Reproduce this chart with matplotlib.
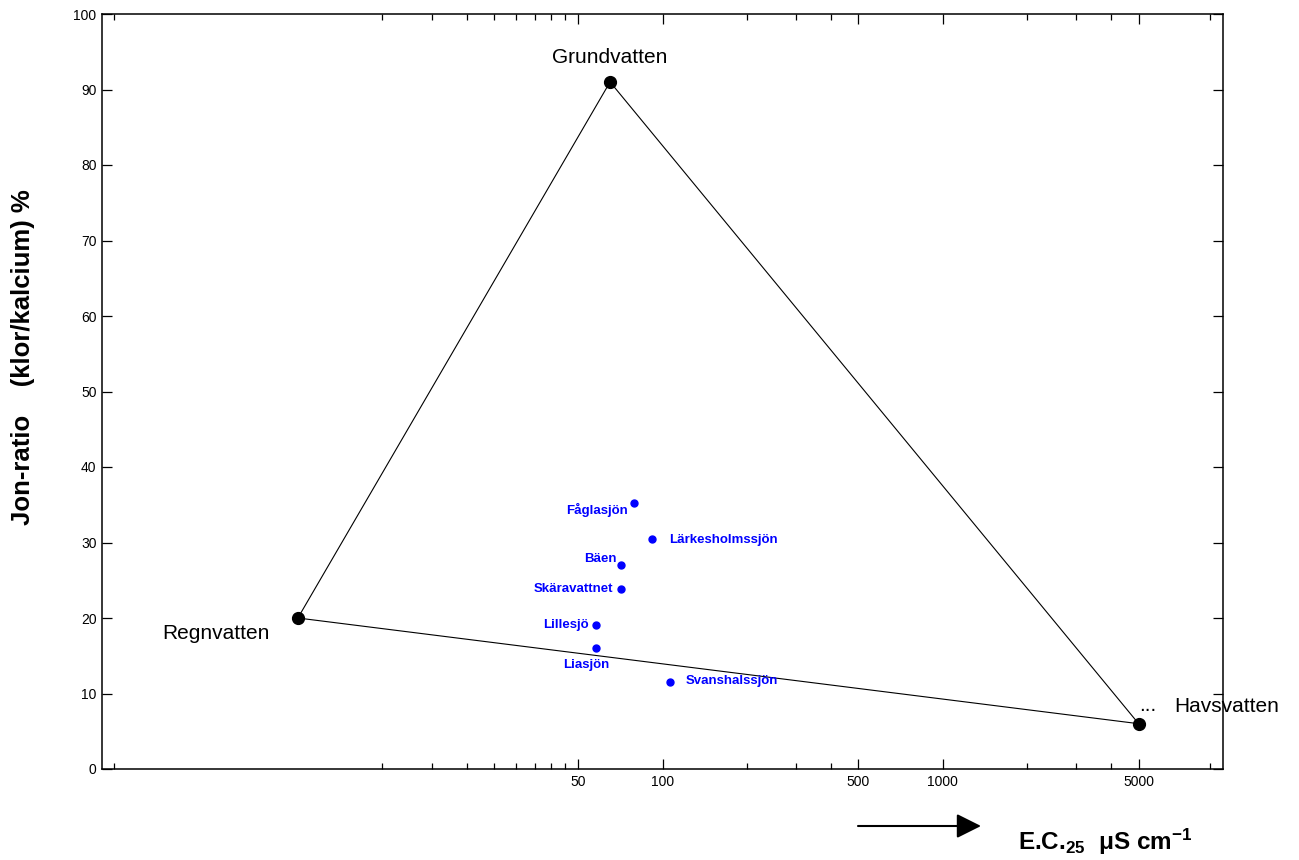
#!/usr/bin/env python3

# Matplotlib for charts
import matplotlib
matplotlib.use('Agg')
import matplotlib.pyplot as plt


############################################################


# End members of the triangle (E.C.25 in uS/cm, ion ratio in %)
end_names = ['Regnvatten', 'Grundvatten', 'Havsvatten']
end_ec    = [5, 65, 5000]
end_ratio = [20, 91, 6]

# Lakes
lake_names = ['Fåglasjön', 'Lärkesholmssjön', 'Bäen', 'Skäravattnet',
              'Lillesjö', 'Liasjön', 'Svanshalssjön']
lake_ec    = [79, 92, 71, 71, 58, 58, 106]
lake_ratio = [35.2, 30.4, 27.0, 23.9, 19.1, 16.0, 11.5]

# Axis ticks
x_major = [50, 100, 500, 1000, 5000]
x_minor = [1.1, 10, 15, 20, 25, 30, 35, 40, 45, 200, 300, 400, 2000, 3000, 4000, 9000]
y_major = list(range(0, 101, 10))


############################################################


plt.rcParams['font.family'] = ['Liberation Sans', 'DejaVu Sans']
plt.rcParams['mathtext.fontset'] = 'custom'
plt.rcParams['mathtext.rm'] = 'Liberation Sans:bold'
plt.rcParams['mathtext.default'] = 'rm'

W, H = 1299, 860
fig = plt.figure(figsize=(W/100, H/100), dpi=100, facecolor='white')

# axes box in pixels: left 102, right 1223, top 14, bottom 769
ax = fig.add_axes([102/W, (H-769)/H, (1223-102)/W, (769-14)/H])

ax.set_xscale('log')
ax.set_xlim(1, 10000)
ax.set_ylim(0, 100)

for s in ax.spines.values():
	s.set_linewidth(1.1)

ax.set_xticks(x_major)
ax.set_xticklabels([str(v) for v in x_major])
ax.set_xticks(x_minor, minor=True)
ax.set_xticklabels([], minor=True)
ax.set_yticks(y_major)
ax.set_yticklabels([str(v) for v in y_major])

ax.tick_params(which='major', direction='in', length=7.5, width=0.9, labelsize=10, pad=4,
	top=True, right=True)
ax.tick_params(which='minor', direction='in', length=4, width=0.9, top=True, right=True)


"""
Triangle between the end members
"""
tri_x = end_ec + [end_ec[0]]
tri_y = end_ratio + [end_ratio[0]]
ax.plot(tri_x, tri_y, color='black', lw=0.8, zorder=2)
ax.plot(end_ec, end_ratio, 'o', color='black', ms=8.5, zorder=3)

# label offsets in pixels, alignment
end_offsets = [(-28, -21, 'right'), (0, 19, 'center'), (36, 12, 'left')]
for name, x, y, (dx, dy, ha) in zip(end_names, end_ec, end_ratio, end_offsets):
	ax.annotate(name, xy=(x, y), xytext=(dx, dy), textcoords='offset pixels',
		ha=ha, va='baseline', fontsize=15)

ax.annotate('...', xy=(end_ec[2], end_ratio[2]), xytext=(0, 13), textcoords='offset pixels',
	ha='left', va='baseline', fontsize=15)


"""
Lakes
"""
ax.plot(lake_ec, lake_ratio, 'o', color='#0000ff', ms=5, zorder=4)

lake_offsets = [(-6, -11, 'right'), (17, -4, 'left'), (-4, 3, 'right'), (-8, -3, 'right'),
	(-7, -3, 'right'), (-10, -20, 'center'), (16, -2, 'left')]
for name, x, y, (dx, dy, ha) in zip(lake_names, lake_ec, lake_ratio, lake_offsets):
	ax.annotate(name, xy=(x, y), xytext=(dx, dy), textcoords='offset pixels',
		ha=ha, va='baseline', fontsize=9.5, fontweight='bold', color='#0000ff')


############################################################


# Axis titles
fig.text(23/W, 1-357/H, 'Jon-ratio    (klor/kalcium) %', rotation=90,
	ha='center', va='center', fontsize=18.5, fontweight='bold')

fig.text(1018/W, 1-850/H, r'E.C.$_{25}$  μS cm$^{-1}$',
	ha='left', va='baseline', fontsize=17.5, fontweight='bold')

# Arrow pointing to the x title
ax.annotate('', xy=(981, H-826), xytext=(858, H-826), xycoords='figure pixels',
	textcoords='figure pixels',
	arrowprops=dict(arrowstyle='-|>,head_length=1.5,head_width=0.75', lw=1.5,
		color='black', mutation_scale=10, shrinkA=0, shrinkB=0))


fig.savefig('out.png', dpi=100)
